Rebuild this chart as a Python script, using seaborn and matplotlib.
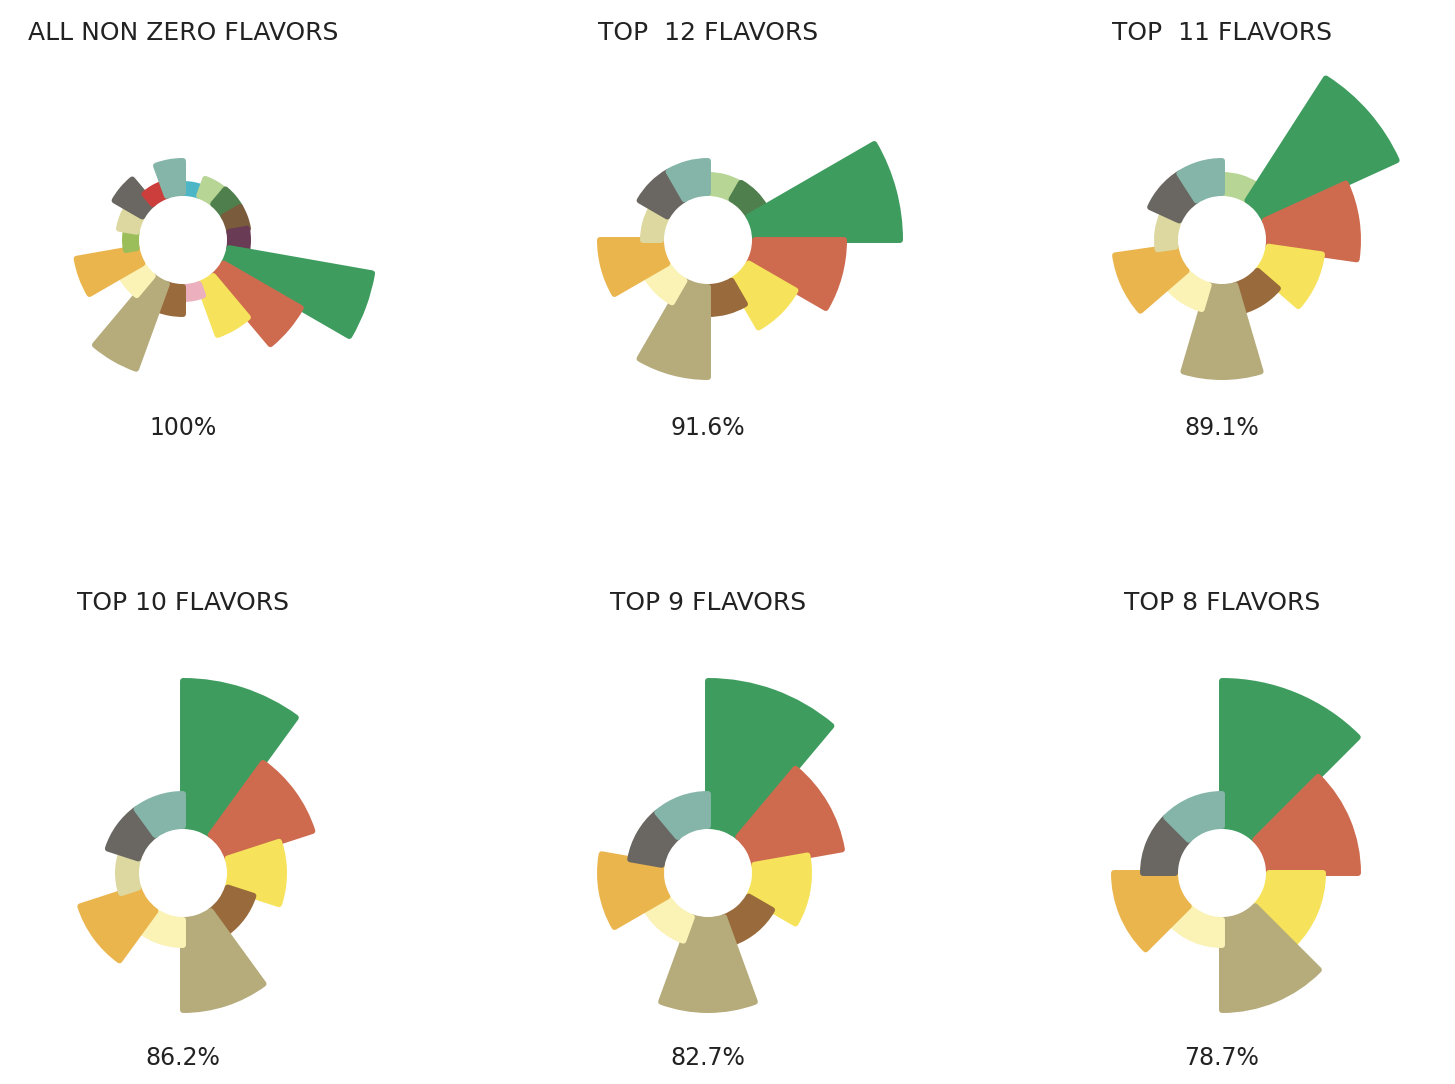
import numpy as np
import seaborn as sns
from matplotlib import pyplot as plt

# flavours in their order around the circle (clockwise from north), with colour
flavors = ["cyan", "light_green", "dark_green", "brown", "purple", "green",
           "coral", "yellow", "pink", "tan", "khaki", "cream", "orange",
           "lime", "pale_olive", "charcoal", "red", "teal"]
flavor_colors = ["#4DB6C6", "#B7D595", "#4F7F4C", "#7A5B3C", "#6A3B55", "#3F9C5F",
                 "#CE6B4F", "#F6E35B", "#EBAFBE", "#996A3C", "#B6AB7A", "#FBF2B6",
                 "#EBB54E", "#9BBE5A", "#DCD8A0", "#6A6762", "#CB3E3B", "#84B5A8"]
# outer radius of each wedge (chart units, hole = 44)
flavor_radius = [59, 68, 69, 69, 68, 195, 139, 104, 62, 77, 140, 75, 111, 61, 68, 82, 63, 82]
hole = 44

# flavours kept in each panel
top12 = ["light_green", "dark_green", "green", "coral", "yellow", "tan", "khaki",
         "cream", "orange", "pale_olive", "charcoal", "teal"]
top11 = [f for f in top12 if f != "dark_green"]
top10 = [f for f in top11 if f != "light_green"]
top9 = [f for f in top10 if f != "pale_olive"]
top8 = [f for f in top9 if f != "tan"]

titles = ["ALL NON ZERO FLAVORS", "TOP  12 FLAVORS", "TOP  11 FLAVORS",
          "TOP 10 FLAVORS", "TOP 9 FLAVORS", "TOP 8 FLAVORS"]
shares = ["100%", "91.6%", "89.1%", "86.2%", "82.7%", "78.7%"]
panels = [flavors, top12, top11, top10, top9, top8]


def rose(ax, keep):
    colors = sns.color_palette(flavor_colors)
    idx = [flavors.index(f) for f in keep]
    n = len(idx)
    width = 2 * np.pi / n
    theta = (np.arange(n) + 0.5) * width
    radius = np.array([flavor_radius[i] for i in idx])
    cols = [colors[i] for i in idx]
    ax.set_theta_zero_location("N")
    ax.set_theta_direction(-1)
    pad = 3
    bars = ax.bar(theta, radius - hole - 2 * pad, width=width, bottom=hole + pad,
                  color=cols, edgecolor=cols, linewidth=4.3, align="center")
    for b in bars:
        b.set_joinstyle("round")
    ax.set_ylim(0, 210)
    ax.set_axis_off()


def main():
    sns.set_style("white")
    plt.rcParams["font.family"] = ["DejaVu Sans"]
    W, H = 1455, 1084
    my_dpi = 100
    fig = plt.figure(figsize=(W / my_dpi, H / my_dpi), dpi=my_dpi)
    centers = [(183, 240), (708, 240), (1222, 240), (183, 873), (708, 873), (1222, 873)]
    title_y = [33, 33, 33, 603, 603, 603]
    share_y = [428, 428, 428, 1058, 1058, 1058]
    half = 210
    for k, (cx, cy) in enumerate(centers):
        ax = fig.add_axes([(cx - half) / W, (H - cy - half) / H, 2 * half / W, 2 * half / H],
                          projection="polar")
        ax.patch.set_alpha(0)
        rose(ax, panels[k])
        fig.text(cx / W, 1 - title_y[k] / H, titles[k], ha="center", va="center",
                 fontsize=18, color="#222222")
        fig.text(cx / W, 1 - share_y[k] / H, shares[k], ha="center", va="center",
                 fontsize=17, color="#222222")
    fig.savefig("out.png", dpi=my_dpi, facecolor="white")


if __name__ == "__main__":
    main()
